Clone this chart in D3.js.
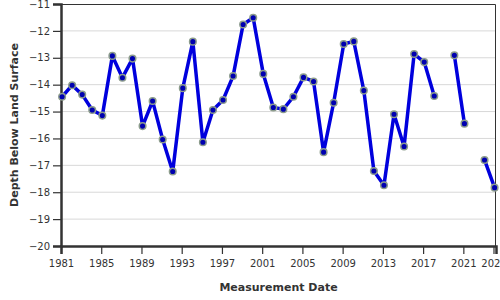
<!DOCTYPE html>
<meta charset="utf-8">
<head>
  <title>Depth below land surface</title>
</head>

<style>
body {
  margin: 0;
  font-family: "DejaVu Sans", sans-serif;
  color: #333;
}
.tick text { font-size: 10px; fill: #333; font-family: "DejaVu Sans", sans-serif; }
.axis-title { font-size: 11px; font-weight: bold; fill: #333; }
</style>

<body>
  <div id="content"></div>

  <script src="https://cdnjs.cloudflare.com/ajax/libs/d3/7.8.5/d3.min.js"></script>

  <script>
// Measurement years (one reading per year, null = no reading)
var years = [1981, 1982, 1983, 1984, 1985, 1986, 1987, 1988, 1989, 1990,
  1991, 1992, 1993, 1994, 1995, 1996, 1997, 1998, 1999, 2000,
  2001, 2002, 2003, 2004, 2005, 2006, 2007, 2008, 2009, 2010,
  2011, 2012, 2013, 2014, 2015, 2016, 2017, 2018, 2019, 2020,
  2021, 2022, 2023, 2024];

var depths = [-14.45, -14.02, -14.37, -14.94, -15.15, -12.93, -13.74, -13.03, -15.54, -14.61,
  -16.04, -17.23, -14.13, -12.40, -16.14, -14.94, -14.57, -13.68, -11.76, -11.51,
  -13.60, -14.85, -14.91, -14.45, -13.73, -13.88, -16.51, -14.67, -12.49, -12.39,
  -14.22, -17.21, -17.74, -15.10, -16.30, -12.86, -13.16, -14.42, null, -12.91,
  -15.45, null, -16.80, -17.83];

var xTickYears = [1981, 1985, 1989, 1993, 1997, 2001, 2005, 2009, 2013, 2017, 2021, 2024];
var yTicks = [-11, -12, -13, -14, -15, -16, -17, -18, -19, -20];

var width = 500, height = 300;
var margin = {top: 4, right: 4, bottom: 54, left: 61};
var w = width - margin.left - margin.right;
var h = height - margin.top - margin.bottom;

// readings taken around February each year
var data = years.map(function(y, i) {
  return {date: new Date(y, 1, 10), value: depths[i]};
});

var x = d3.scaleTime()
  .domain([new Date(1981, 0, 1), new Date(2024, 3, 1)])
  .range([0, w]);

var y = d3.scaleLinear()
  .domain([-11, -20])
  .range([0, h]);

var svg = d3.select('#content').append('svg')
  .attr('width', width)
  .attr('height', height);

var g = svg.append('g')
  .attr('transform', 'translate(' + margin.left + ',' + margin.top + ')');

// Grid
g.selectAll('.grid')
  .data(yTicks.slice(1, -1))
  .enter().append('line')
  .attr('x1', 0).attr('x2', w)
  .attr('y1', function(d) { return y(d); })
  .attr('y2', function(d) { return y(d); })
  .attr('stroke', '#d8d8d8')
  .attr('stroke-width', 1);

// Frame (top/right)
g.append('path')
  .attr('d', 'M0,0.5H' + (w - 0.5) + 'V' + h)
  .attr('fill', 'none')
  .attr('stroke', '#333')
  .attr('stroke-width', 1);

// Axes
var xAxis = g.append('g')
  .attr('transform', 'translate(0,' + h + ')')
  .call(d3.axisBottom(x)
    .tickValues(xTickYears.map(function(d) { return new Date(d, 0, 1); }))
    .tickFormat(d3.timeFormat('%Y'))
    .tickSize(8)
    .tickPadding(6));

var yAxis = g.append('g')
  .call(d3.axisLeft(y)
    .tickValues(yTicks)
    .tickFormat(d3.format('d'))
    .tickSize(8)
    .tickPadding(3));

[xAxis, yAxis].forEach(function(a) {
  a.select('.domain').attr('stroke', '#333').attr('stroke-width', 2.5);
  a.selectAll('.tick line').attr('stroke', '#333').attr('stroke-width', 1.2);
});

// Line
var line = d3.line()
  .defined(function(d) { return d.value !== null; })
  .x(function(d) { return x(d.date); })
  .y(function(d) { return y(d.value); });

g.append('path')
  .datum(data)
  .attr('d', line)
  .attr('fill', 'none')
  .attr('stroke', '#0000dd')
  .attr('stroke-width', 3.5)
  .attr('stroke-linejoin', 'round');

g.selectAll('.pt')
  .data(data.filter(function(d) { return d.value !== null; }))
  .enter().append('circle')
  .attr('cx', function(d) { return x(d.date); })
  .attr('cy', function(d) { return y(d.value); })
  .attr('r', 3.3)
  .attr('fill', '#0000b0')
  .attr('stroke', '#8c9c8c')
  .attr('stroke-width', 1.5);

// Titles
svg.append('text')
  .attr('class', 'axis-title')
  .attr('x', margin.left + w / 2)
  .attr('y', 291)
  .attr('text-anchor', 'middle')
  .text('Measurement Date');

svg.append('text')
  .attr('class', 'axis-title')
  .attr('transform', 'translate(18,' + (margin.top + h / 2) + ') rotate(-90)')
  .attr('text-anchor', 'middle')
  .text('Depth Below Land Surface');
  </script>
</body>
</html>
